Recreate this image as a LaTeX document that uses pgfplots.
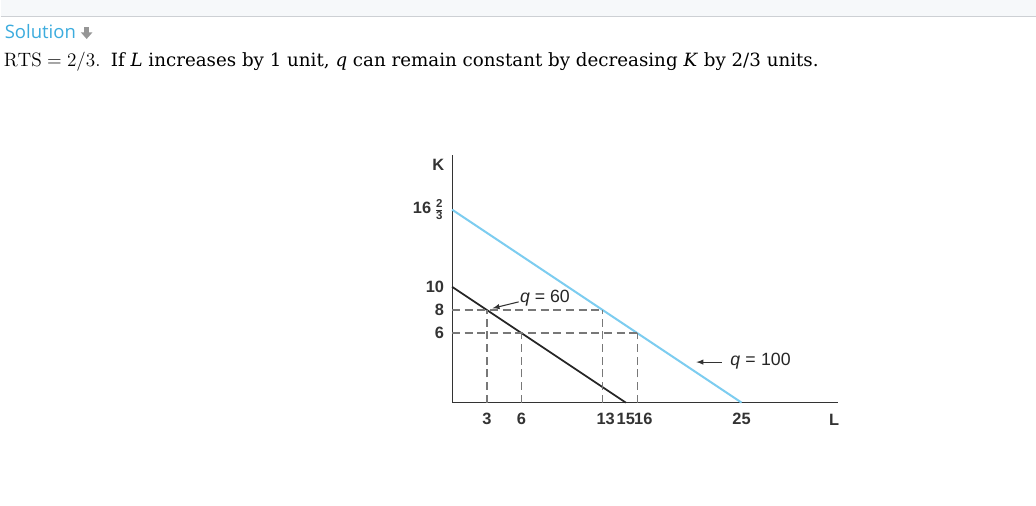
\documentclass[border=0pt]{standalone}
\usepackage{pgfplots}
\pgfplotsset{compat=1.18}
\usepackage{amsmath}
\usepackage{fontspec}
\newfontfamily\lsans{Liberation Sans}
\newfontfamily\osans{Open Sans}
\newfontfamily\dserif{DejaVu Serif}
\definecolor{qblue}{RGB}{125,205,240}
\definecolor{solblue}{RGB}{60,172,222}
\definecolor{topband}{RGB}{246,248,250}
\definecolor{bandline}{RGB}{205,208,212}
\definecolor{dashgray}{RGB}{120,120,120}
\definecolor{arrgray}{RGB}{150,150,150}
\begin{document}
\begin{tikzpicture}[x=0.75pt,y=-0.75pt]
\fill[white] (0,0) rectangle (1036,506);
\fill[topband] (0,0) rectangle (1036,16);
\draw[bandline, line width=0.75pt] (0,16.5) -- (1036,16.5);
\node[anchor=base west, inner sep=0, text=solblue, font=\osans\fontsize{13.9}{15}\selectfont] at (4,39) {Solution};
\fill[arrgray] (84,27) rectangle (88.5,33);
\fill[arrgray] (80.5,32.5) -- (92,32.5) -- (86.25,39) -- cycle;
\node[anchor=base west, inner sep=0, font=\fontsize{14.5}{17}\selectfont] at (3,67) {$\mathrm{RTS} = 2/3.$\hspace{3pt} {\dserif\fontsize{13.7}{17}\selectfont If \textit{L} increases by 1 unit, \textit{q} can remain constant by decreasing \textit{K} by 2/3 units.}};
\begin{axis}[
  at={(339pt,-302.25pt)}, anchor=south west,
  scale only axis, width=289.5pt, height=186pt,
  xmin=0, xmax=33.3, ymin=0, ymax=21.4,
  axis x line*=bottom, axis y line*=left,
  axis line style={-, black!80, line width=0.8pt},
  major tick length=0,
  xtick={3,6,13,15,16,25},
  xticklabels={3,6,\hspace*{4.5pt}13,15,\hspace*{9pt}16,25},
  ytick={6,8,10,16.6667},
  yticklabels={6,8,10,{16\hspace{2.5pt}$\frac{\text{2}}{\text{3}}$}},
  tick label style={font=\lsans\bfseries\fontsize{12.3}{14}\selectfont, text=black!80},
  xticklabel style={yshift=-6.5pt, inner sep=1pt},
  yticklabel style={xshift=-2.5pt},
  /pgf/number format/assume math mode=true,
  clip=false,
]
\addplot[qblue, line width=1.5pt] coordinates {(0,16.6667) (25,0)};
\addplot[black!85, line width=1.3pt] coordinates {(0,10) (15,0)};
\addplot[dashgray, line width=1.1pt, dash pattern=on 6pt off 3.5pt] coordinates {(0,8) (13,8)};
\addplot[dashgray, line width=1.1pt, dash pattern=on 6pt off 3.5pt] coordinates {(0,6) (16,6)};
\addplot[dashgray, line width=1.1pt, dash pattern=on 6pt off 3.5pt] coordinates {(3,0) (3,8)};
\addplot[dashgray, line width=1.1pt, dash pattern=on 6pt off 3.5pt] coordinates {(6,0) (6,6)};
\addplot[dashgray, line width=1.1pt, dash pattern=on 6pt off 3.5pt] coordinates {(13,0) (13,8)};
\addplot[dashgray, line width=1.1pt, dash pattern=on 6pt off 3.5pt] coordinates {(16,0) (16,6)};
\draw[-latex, black!80, line width=0.8pt] (axis cs:5.75,8.7) -- (axis cs:3.5,8.15);
\node[anchor=west, inner sep=0, font=\lsans\fontsize{13.3}{15}\selectfont, text=black!85] at (axis cs:5.85,9.0) {\textit{q} = 60};
\draw[-latex, black!80, line width=0.8pt] (axis cs:23.3,3.5) -- (axis cs:21.1,3.5);
\node[anchor=west, inner sep=0, font=\lsans\fontsize{13.3}{15}\selectfont, text=black!85] at (axis cs:24.0,3.6) {\textit{q}\hspace{4pt}=\hspace{4pt}100};
\node[font=\lsans\bfseries\fontsize{12.3}{14}\selectfont, text=black!80] at (axis cs:-1.2,20.5) {K};
\node[font=\lsans\bfseries\fontsize{12.3}{14}\selectfont, text=black!80] at (axis cs:33.0,-1.45) {L};
\end{axis}
\end{tikzpicture}
\end{document}
